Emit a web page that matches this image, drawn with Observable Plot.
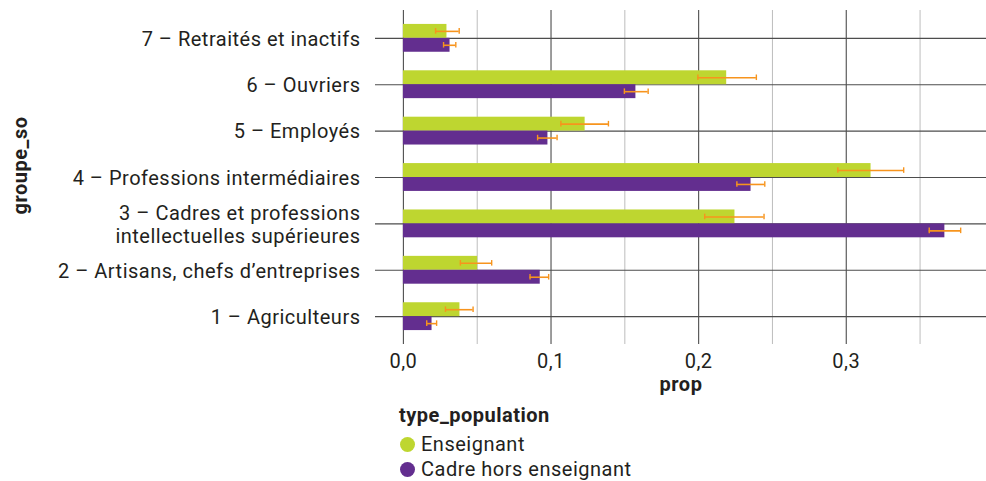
<!DOCTYPE html>
<html>
<head>
<meta charset="utf-8">
<script src="https://cdn.jsdelivr.net/npm/d3@7"></script>
<script src="https://cdn.jsdelivr.net/npm/@observablehq/plot@0.6"></script>
<style>
  html, body { margin: 0; padding: 0; background: #fff; }
  #chart { position: relative; width: 986px; height: 481px; font-family: Roboto, sans-serif; color: #231f20; }
  #chart svg { display: block; letter-spacing: 0.5px; }
  .legend { position: absolute; left: 399px; top: 404px; font-size: 20px; letter-spacing: 0.5px; }
  .legend .title { font-weight: bold; line-height: 22px; height: 22px; }
  .legend .items { margin-top: 6px; }
  .legend .item { display: flex; align-items: center; height: 25px; line-height: 25px; }
  .legend .sw { width: 15px; height: 15px; border-radius: 50%; margin-right: 6px; margin-left: 1px; }
</style>
</head>
<body>
<div id="chart"></div>
<script>
const categories = [
  "1 – Agriculteurs",
  "2 – Artisans, chefs d’entreprises",
  "3 – Cadres et professions\nintellectuelles supérieures",
  "4 – Professions intermédiaires",
  "5 – Employés",
  "6 – Ouvriers",
  "7 – Retraités et inactifs"
];
const types = ["Enseignant", "Cadre hors enseignant"];
const colors = ["#bed630", "#632e8f"];
const propEns = [0.0383, 0.0503, 0.2246, 0.3168, 0.1231, 0.2190, 0.0295];
const lowEns  = [0.0285, 0.0386, 0.2041, 0.2943, 0.1067, 0.1995, 0.0218];
const highEns = [0.0472, 0.0598, 0.2443, 0.3389, 0.1389, 0.2391, 0.0378];
const propCad = [0.0194, 0.0927, 0.3668, 0.2355, 0.0979, 0.1575, 0.0316];
const lowCad  = [0.0158, 0.0858, 0.3562, 0.2259, 0.0909, 0.1497, 0.0272];
const highCad = [0.0225, 0.0984, 0.3775, 0.2448, 0.1041, 0.1658, 0.0355];
const xTicks = [0, 0.1, 0.2, 0.3];
const xMinor = [0.05, 0.15, 0.25, 0.35];

const barThickness = 0.3;
const rows = [];
categories.forEach((c, i) => {
  rows.push({cat: i + 1, type: types[0], prop: propEns[i], low: lowEns[i], high: highEns[i], slot: 0});
  rows.push({cat: i + 1, type: types[1], prop: propCad[i], low: lowCad[i], high: highCad[i], slot: -1});
});
rows.forEach(r => {
  r.y1 = r.cat + r.slot * barThickness;
  r.y2 = r.y1 + barThickness;
  r.yc = (r.y1 + r.y2) / 2;
});
const capHalf = 0.06;
const errColor = "#f7941d";
const fmt = d => d3.format(".1f")(d).replace(".", ",");

const plot = Plot.plot({
  width: 986,
  height: 400,
  marginLeft: 375,
  marginRight: 0,
  marginTop: 10,
  marginBottom: 56,
  style: {fontFamily: "Roboto, sans-serif", fontSize: "20px", color: "#231f20", background: "#fff"},
  x: {domain: [-0.0189, 0.395], axis: null},
  y: {domain: [0.4, 7.6], axis: null},
  color: {domain: types, range: colors},
  marks: [
    Plot.ruleX(xMinor, {stroke: "#bdbdbd", strokeWidth: 1}),
    Plot.ruleX(xTicks, {stroke: "#4d4d4d", strokeWidth: 1.1}),
    Plot.ruleY(d3.range(1, 8), {stroke: "#4d4d4d", strokeWidth: 1.1}),
    Plot.rectX(rows, {x1: 0, x2: "prop", y1: "y1", y2: "y2", fill: "type"}),
    Plot.ruleY(rows, {y: "yc", x1: "low", x2: "high", stroke: errColor, strokeWidth: 1.6}),
    Plot.ruleX(rows, {x: "low", y1: d => d.yc - capHalf, y2: d => d.yc + capHalf, stroke: errColor, strokeWidth: 1.4}),
    Plot.ruleX(rows, {x: "high", y1: d => d.yc - capHalf, y2: d => d.yc + capHalf, stroke: errColor, strokeWidth: 1.4}),
    Plot.axisX({ticks: xTicks, tickFormat: fmt, tickSize: 0, tickPadding: 9, fontSize: 20, label: null}),
    Plot.axisY({ticks: d3.range(1, 8), tickFormat: i => categories[i - 1], tickSize: 0, tickPadding: 15, fontSize: 20, lineHeight: 1.15, label: null}),
    Plot.text(["prop"], {frameAnchor: "bottom", dy: 46, fontWeight: "bold", fontSize: 20}),
    Plot.text(["groupe_so"], {frameAnchor: "left", textAnchor: "middle", dx: -355, dy: -12, rotate: -90, fontWeight: "bold", fontSize: 20})
  ]
});

const chart = document.getElementById("chart");
chart.appendChild(plot);
const legend = document.createElement("div");
legend.className = "legend";
legend.innerHTML = `<div class="title">type_population</div><div class="items">` +
  types.map((t, i) => `<div class="item"><span class="sw" style="background:${colors[i]}"></span>${t}</div>`).join("") +
  `</div>`;
chart.appendChild(legend);
</script>
</body>
</html>
